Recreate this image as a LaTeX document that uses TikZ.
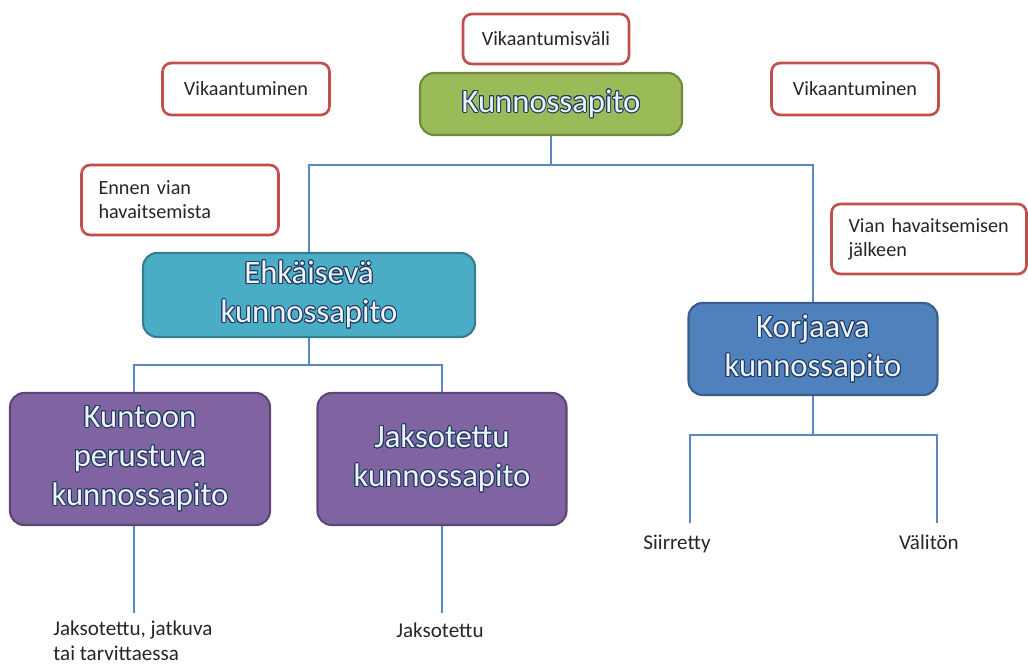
\documentclass[tikz,border=0pt]{standalone}
\usepackage{fontspec}
\setmainfont{Carlito}
\usepackage[copies]{contour}
\usetikzlibrary{positioning}

\definecolor{greenF}{HTML}{9BBB59}\definecolor{greenD}{HTML}{71893F}
\definecolor{tealF}{HTML}{4BACC6}\definecolor{tealD}{HTML}{357D91}
\definecolor{blueF}{HTML}{4F81BD}\definecolor{blueD}{HTML}{385D8A}
\definecolor{purF}{HTML}{8064A2}\definecolor{purD}{HTML}{5C4776}
\definecolor{noteRed}{HTML}{C0504D}
\definecolor{lineBlue}{HTML}{5B87C2}
\definecolor{glowFg}{HTML}{EEF3FA}
\definecolor{glowBk}{HTML}{1F3B63}

\contourlength{0.55pt}
\contournumber{16}
\newcommand{\glow}[1]{\contour{glowBk}{#1}}

\begin{document}
\begin{tikzpicture}[
  x=0.02cm, y=-0.02cm,
  note/.style={draw=noteRed, line width=1.5pt, fill=white, rounded corners=5pt,
               text=black!85, font=\fontsize{11.5}{13.7}\selectfont},
  kbox/.style={rounded corners=8pt, line width=1.2pt, align=center,
               text=glowFg, font=\fontsize{18.6}{22.3}\selectfont},
  conn/.style={draw=lineBlue, line width=0.8pt},
  lbl/.style={inner sep=0pt, text=black!85, font=\fontsize{12}{14}\selectfont},
]
\useasboundingbox (0,0) rectangle (1028,668);

% ---- main boxes ----
\node[kbox, fill=greenF, draw=greenD, minimum width=5.24cm, minimum height=1.24cm]
  (root) at (551,104) {\glow{Kunnossapito}};
\node[kbox, fill=tealF, draw=tealD, minimum width=6.64cm, minimum height=1.68cm]
  (ehk) at (309,295) {\glow{Ehkäisevä}\\\glow{kunnossapito}};
\node[kbox, fill=blueF, draw=blueD, minimum width=4.98cm, minimum height=1.84cm]
  (korj) at (813,349) {\glow{Korjaava}\\\glow{kunnossapito}};
\node[kbox, fill=purF, draw=purD, minimum width=5.2cm, minimum height=2.64cm]
  (kunto) at (140,459) {\glow{Kuntoon}\\\glow{perustuva}\\\glow{kunnossapito}};
\node[kbox, fill=purF, draw=purD, minimum width=4.98cm, minimum height=2.64cm]
  (jakso) at (442,459) {\glow{Jaksotettu}\\\glow{kunnossapito}};

% ---- notes ----
\node[note, minimum width=3.32cm, minimum height=1cm] (vvali) at (546,39) {Vikaantumisväli};
\node[note, minimum width=3.34cm, minimum height=1.04cm] (vikV) at (246,89) {Vikaantuminen};
\node[note, minimum width=3.34cm, minimum height=1.04cm] (vikO) at (855,89) {Vikaantuminen};
\node[note, text width=3.26cm, inner xsep=0.34cm, minimum height=1.4cm, align=left]
  (ennen) at (180,200) {Ennen vian\\havaitsemista};
\node[note, text width=3.22cm, inner xsep=0.34cm, minimum height=1.4cm, align=left]
  (vian) at (929,239) {Vian havaitsemisen\\jälkeen};

% ---- leaf labels ----
\node[lbl, anchor=north west, align=left] (jatk) at (53,621) {Jaksotettu, jatkuva\\tai tarvittaessa};
\node[lbl, anchor=base] (jaks) at (440,638) {Jaksotettu};
\node[lbl, anchor=base] (siir) at (677,550) {Siirretty};
\node[lbl, anchor=base] (valt) at (929,550) {Välitön};
\coordinate (jatkEnd) at (134,613);
\coordinate (jaksEnd) at (442,613);
\coordinate (siirEnd) at (690,523);
\coordinate (valtEnd) at (937,523);

% ---- connectors ----
\draw[conn] (root.south) -- ++(0,29) coordinate (hubA) -| (ehk.north);
\draw[conn] (hubA) -| (korj.north);
\draw[conn] (ehk.south) -- ++(0,27) coordinate (hubB) -| (jatkEnd |- kunto.north);
\draw[conn] (hubB) -| (jakso.north);
\draw[conn] (korj.south) -- ++(0,39) coordinate (hubC) -| (siirEnd);
\draw[conn] (hubC) -| (valtEnd);
\draw[conn] (jatkEnd |- kunto.south) -- (jatkEnd);
\draw[conn] (jakso.south) -- (jaksEnd);

\end{tikzpicture}
\end{document}
